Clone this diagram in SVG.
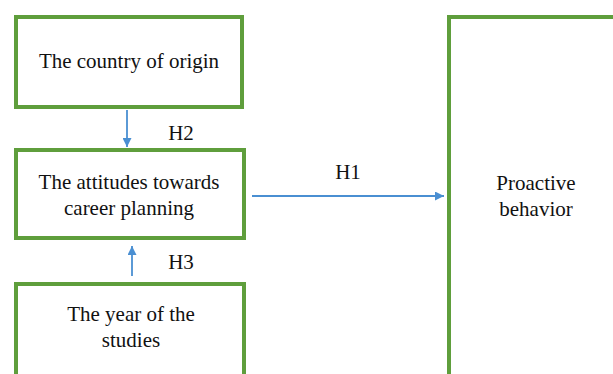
<svg xmlns="http://www.w3.org/2000/svg" width="613" height="374" viewBox="0 0 613 374">
<style>
.box{fill:#fff;stroke:#5f9e3c;stroke-width:4}
.t{font-family:"Liberation Serif","Times New Roman",serif;font-size:21px;fill:#111;text-anchor:middle}
.c{stroke:#4a8fd2;stroke-width:1.8;fill:none}
</style>
<defs>
<marker id="a" viewBox="0 0 10 10" refX="10" refY="5" markerWidth="9" markerHeight="9" orient="auto" markerUnits="userSpaceOnUse">
<path d="M0,0L10,5L0,10z" fill="#4a8fd2"/>
</marker>
</defs>
<rect width="613" height="374" fill="#fff"/>
<g id="n1"><rect class="box" x="16" y="17" width="226" height="90"/><text class="t" x="129" y="68">The country of origin</text></g>
<g id="n2"><rect class="box" x="16" y="150" width="228" height="88"/><text class="t" x="129" y="189">The attitudes towards</text><text class="t" x="129" y="215">career planning</text></g>
<g id="n3"><rect class="box" x="16" y="284" width="228" height="100"/><text class="t" x="131" y="321">The year of the</text><text class="t" x="131" y="347">studies</text></g>
<g id="n4"><rect class="box" x="449" y="17" width="170" height="370"/><text class="t" x="536" y="190">Proactive</text><text class="t" x="536" y="216">behavior</text></g>
<g id="connectors">
<line class="c" x1="127" y1="110" x2="127" y2="147" marker-end="url(#a)"/>
<line class="c" x1="132" y1="276" x2="132" y2="246" marker-end="url(#a)"/>
<line class="c" x1="252" y1="196" x2="444" y2="196" marker-end="url(#a)"/>
<text class="t" x="181" y="140">H2</text>
<text class="t" x="181" y="269">H3</text>
<text class="t" x="348" y="179">H1</text>
</g>
</svg>
